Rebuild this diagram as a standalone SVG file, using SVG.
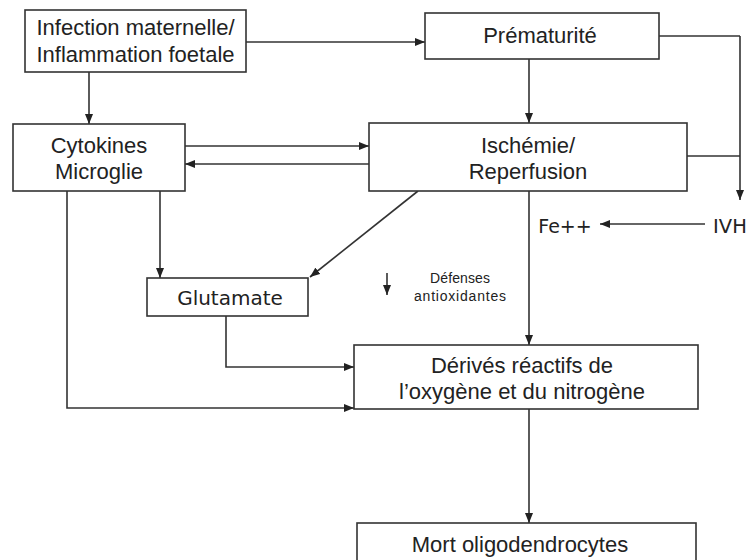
<svg xmlns="http://www.w3.org/2000/svg" width="750" height="560" viewBox="0 0 750 560">
<defs>
<marker id="ah" viewBox="0 0 10 8" refX="10" refY="4" markerWidth="10" markerHeight="8" markerUnits="userSpaceOnUse" orient="auto">
<path d="M0,0 L10,4 L0,8 z" fill="#222"/>
</marker>
</defs>
<style>
.box{fill:#fff;stroke:#333;stroke-width:1.6}
.t{font-family:"Liberation Sans",Arial,sans-serif;font-size:22px;fill:#222;text-anchor:middle}
.g{font-family:"DejaVu Sans",sans-serif;font-size:20px;fill:#222;text-anchor:middle}
.s{font-family:"Liberation Sans",Arial,sans-serif;font-size:14px;fill:#222;text-anchor:middle}
.c{fill:none;stroke:#333;stroke-width:1.6}
.ca{fill:none;stroke:#333;stroke-width:1.6;marker-end:url(#ah)}
</style>
<rect width="750" height="560" fill="#fff"/>
<g id="connectors">
<path class="ca" d="M246,42 H425"/>
<path class="ca" d="M89,72 V124"/>
<path class="ca" d="M529,59 V123"/>
<path class="c" d="M659,36 H740"/>
<path class="c" d="M687,156 H740"/>
<path class="ca" d="M740,36 V200"/>
<path class="ca" d="M185,146 H369"/>
<path class="ca" d="M369,164 H185"/>
<path class="ca" d="M160,191 V278"/>
<path class="ca" d="M418,191 L310,277"/>
<path class="ca" d="M529,191 V345"/>
<path class="ca" d="M705,224 H600"/>
<path class="ca" d="M226,316 V367 H354"/>
<path class="ca" d="M67,191 V408 H354"/>
<path class="ca" d="M529,409 V523"/>
<path class="ca" d="M387,273 V295"/>
</g>
<g id="infection">
<rect class="box" x="25" y="10" width="221" height="62"/>
<text class="t" x="135.5" y="35">Infection maternelle/</text>
<text class="t" x="135.5" y="62">Inflammation foetale</text>
</g>
<g id="prematurite">
<rect class="box" x="425" y="13" width="234" height="46"/>
<text class="t" x="540" y="43">Prématurité</text>
</g>
<g id="cytokines">
<rect class="box" x="13" y="124" width="172" height="67"/>
<text class="t" x="99" y="153">Cytokines</text>
<text class="t" x="99" y="179">Microglie</text>
</g>
<g id="ischemie">
<rect class="box" x="369" y="123" width="318" height="68"/>
<text class="t" x="528" y="153">Ischémie/</text>
<text class="t" x="528" y="179">Reperfusion</text>
</g>
<g id="glutamate">
<rect class="box" x="147" y="278" width="161" height="38"/>
<text class="g" x="230" y="305">Glutamate</text>
</g>
<g id="defenses">
<text class="s" x="460" y="283" textLength="60">Défenses</text>
<text class="s" x="460" y="301" textLength="92">antioxidantes</text>
</g>
<g id="fe">
<text class="g" x="565" y="233" style="font-size:19px">Fe++</text>
</g>
<g id="ivh">
<text class="g" x="730" y="233" style="font-size:19.5px">IVH</text>
</g>
<g id="derives">
<rect class="box" x="354" y="345" width="344" height="64"/>
<text class="t" x="522" y="373">Dérivés réactifs de</text>
<text class="t" x="522" y="399">l’oxygène et du nitrogène</text>
</g>
<g id="mort">
<rect class="box" x="357" y="523" width="339" height="45"/>
<text class="t" x="520" y="552">Mort oligodendrocytes</text>
</g>
</svg>
